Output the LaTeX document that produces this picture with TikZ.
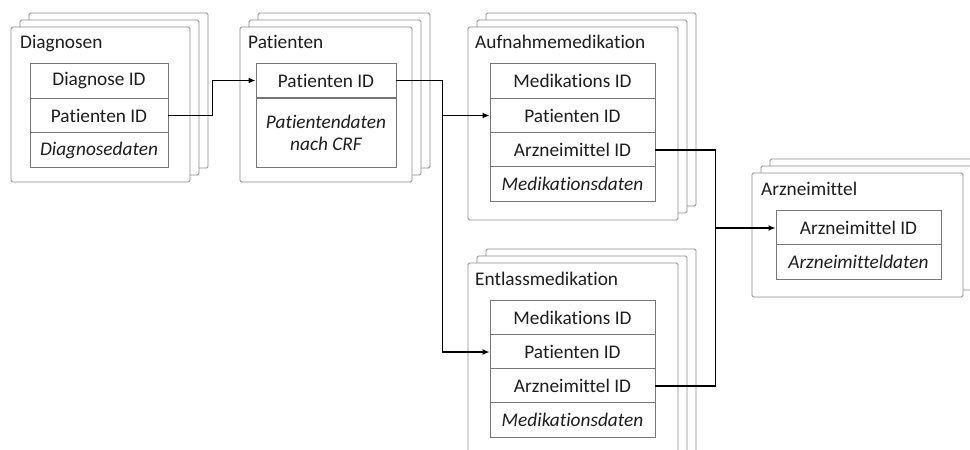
\documentclass[tikz,border=0pt]{standalone}
\usepackage{fontspec}
\setmainfont[Ligatures=NoCommon]{Carlito}
\usetikzlibrary{arrows.meta,calc}
\definecolor{boxgray}{HTML}{8C8C8C}
\definecolor{rowgray}{HTML}{767676}
\definecolor{txt}{HTML}{1E1E1E}
\newcommand\fs{\fontsize{19.3}{22}\selectfont}
\newcommand\framestack[4]{%
  \draw[frame] (#1+18,#2-14) rectangle (#3+18,#4-14);
  \draw[frame] (#1+9,#2-7) rectangle (#3+9,#4-7);
  \draw[frame] (#1,#2) rectangle (#3,#4);}
\begin{document}
\begin{tikzpicture}[x=1pt,y=-1pt,
  frame/.style={draw=boxgray, fill=white, line width=0.9pt, rounded corners=1.5pt},
  row/.style={draw=rowgray, fill=white, line width=0.9pt, minimum height=34.3pt,
    inner sep=0pt, font=\fs, text=txt},
  ital/.style={row, font=\fs\itshape},
  title/.style={anchor=base west, inner sep=0pt, font=\fs, text=txt},
  conn/.style={line width=1.6pt, black},
  arr/.style={conn, -{Latex[length=7pt,width=6pt]}}]
\useasboundingbox (0,0) rectangle (970,450);
\fill[white] (0,0) rectangle (970,450);
\clip (0,0) rectangle (970,450);

% Diagnosen
\framestack{11}{27}{190}{182}
\node[title] (tdg) at (20,48) {Diagnosen};
\node[row, minimum width=138] (d1) at (99,81) {Diagnose ID};
\node[row, minimum width=138] (d2) at (99,115.5) {Patienten ID};
\node[ital, minimum width=138] (d3) at (99,150) {Diagnosedaten};

% Patienten
\framestack{240}{27}{412}{182}
\node[title] (tpt) at (248,48) {Patienten};
\node[row, minimum width=140] (p1) at (326,80.5) {Patienten ID};
\node[ital, minimum width=140, minimum height=69, align=center] (p2) at (326,132.5) {Patientendaten\\nach CRF};

% Aufnahmemedikation
\framestack{468}{27}{678}{220}
\node[title] (tam) at (475,48) {Aufnahmemedikation};
\node[row, minimum width=165] (a1) at (572.5,81) {Medikations ID};
\node[row, minimum width=165] (a2) at (572.5,115.5) {Patienten ID};
\node[row, minimum width=165] (a3) at (572.5,150) {Arzneimittel ID};
\node[ital, minimum width=165] (a4) at (572.5,184) {Medikationsdaten};

% Entlassmedikation
\framestack{468}{263}{678}{520}
\node[title] (tem) at (475,285) {Entlassmedikation};
\node[row, minimum width=165] (e1) at (572.5,318) {Medikations ID};
\node[row, minimum width=165] (e2) at (572.5,352) {Patienten ID};
\node[row, minimum width=165] (e3) at (572.5,386) {Arzneimittel ID};
\node[ital, minimum width=165] (e4) at (572.5,420) {Medikationsdaten};

% Arzneimittel
\framestack{752}{173}{963}{297}
\node[title] (tar) at (761,195) {Arzneimittel};
\node[row, minimum width=165] (m1) at (858.5,228) {Arzneimittel ID};
\node[ital, minimum width=165] (m2) at (858.5,262) {Arzneimitteldaten};

% connectors
\draw[arr] (d2.east) -- ++(44,0) |- (p1.west);
\coordinate (pj) at ($(p1.east)+(46,0)$);
\draw[arr] (p1.east) -- (pj) |- (e2.west);
\draw[arr] (pj |- a2.west) -- (a2.west);
\coordinate (aj) at ($(a3.east)+(60,0)$);
\draw[conn] (a3.east) -- (aj) |- (e3.east);
\draw[arr] (aj |- m1.west) -- (m1.west);
\end{tikzpicture}
\end{document}
